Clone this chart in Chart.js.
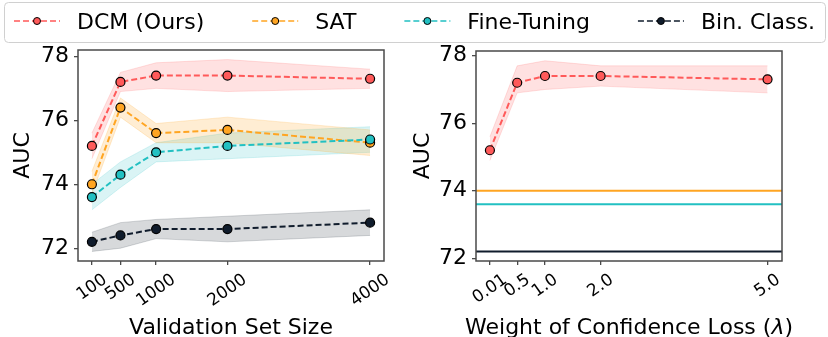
<!DOCTYPE html>
<html>
<head>
<meta charset="utf-8">
<script src="https://cdn.jsdelivr.net/npm/chart.js@4/dist/chart.umd.min.js"></script>
<style>
  body { margin: 0; background: #fff; }
  #wrap { position: relative; width: 828px; height: 337px; }
  canvas { position: absolute; left: 0; top: 0; }
</style>
</head>
<body>
<div id="wrap">
  <canvas id="sizeChart" width="828" height="337"></canvas>
  <canvas id="lambdaChart" width="828" height="337"></canvas>
</div>
<script>
// x values + tick labels
const sizes = [100, 500, 1000, 2000, 4000];
const sizeLabels = ['100', '500', '1000', '2000', '4000'];
const lambdas = [0.01, 0.5, 1.0, 2.0, 5.0];
const lambdaLabels = ['0.01', '0.5', '1.0', '2.0', '5.0'];
const aucTicks = [72, 74, 76, 78];

// left panel: AUC vs validation set size (mean, lower, upper)
const dcmAuc = [75.2, 77.2, 77.4, 77.4, 77.3];
const dcmLow = [74.8, 76.9, 77.0, 76.9, 77.0];
const dcmHigh = [75.6, 77.5, 77.8, 77.9, 77.6];
const satAuc = [74.0, 76.4, 75.6, 75.7, 75.3];
const satLow = [73.7, 76.1, 75.3, 75.3, 74.9];
const satHigh = [74.4, 76.7, 75.9, 76.1, 75.7];
const ftAuc = [73.6, 74.3, 75.0, 75.2, 75.4];
const ftLow = [73.2, 73.9, 74.7, 74.8, 75.0];
const ftHigh = [74.0, 74.7, 75.3, 75.6, 75.8];
const binAuc = [72.2, 72.4, 72.6, 72.6, 72.8];
const binLow = [71.9, 72.0, 72.3, 72.2, 72.4];
const binHigh = [72.5, 72.8, 72.9, 73.0, 73.2];

// right panel: AUC vs weight of confidence loss
const dcmLambdaAuc = [75.2, 77.2, 77.4, 77.4, 77.3];
const dcmLambdaLow = [74.9, 76.9, 77.0, 77.1, 76.9];
const dcmLambdaHigh = [75.6, 77.7, 77.85, 77.7, 77.7];
const baselineNames = ['SAT', 'Fine-Tuning', 'Bin. Class.'];
const baselineAuc = [74.0, 73.6, 72.2];

const legendNames = ['DCM (Ours)', 'SAT', 'Fine-Tuning', 'Bin. Class.'];
const colors = ['#ff5a5a', '#ffa522', '#22c0c2', '#101c2c'];
const bandColors = ['rgba(255,90,90,0.18)', 'rgba(255,165,34,0.2)', 'rgba(34,192,194,0.17)', 'rgba(16,28,44,0.17)'];

const FONT = 'DejaVu Sans';
const frameColor = '#4a4a4a';
Chart.defaults.font.family = FONT;
Chart.defaults.color = '#000';

const pts = (xs, ys) => xs.map((x, i) => ({ x: x, y: ys[i] }));

function lineSet(label, xs, ys, c, order) {
    return {
        label, data: pts(xs, ys), order,
        borderColor: colors[c], backgroundColor: colors[c],
        borderWidth: 2, borderDash: [6, 3], tension: 0, fill: false,
        pointRadius: 4.5, pointHoverRadius: 4.5,
        pointBackgroundColor: colors[c], pointBorderColor: '#000', pointBorderWidth: 1.2
    };
}

function bandSets(xs, lo, hi, c) {
    const base = { borderColor: bandColors[c], borderWidth: 1, pointRadius: 0, tension: 0, order: 20 };
    return [
        Object.assign({ label: '', data: pts(xs, hi), fill: '+1', backgroundColor: bandColors[c] }, base),
        Object.assign({ label: '', data: pts(xs, lo), fill: false }, base)
    ];
}

const fixTicks = vals => scale => { scale.ticks = vals.map(v => ({ value: v })); };

function axes(xMin, xMax, xTicks, yMin, yMax, yWidth) {
    return {
        x: {
            type: 'linear', min: xMin, max: xMax,
            afterBuildTicks: fixTicks(xTicks),
            afterFit: s => { s.height = 76; },
            ticks: { display: false },
            grid: { drawOnChartArea: false, tickLength: 4, color: frameColor, lineWidth: 1.3 },
            border: { display: false }
        },
        y: {
            min: yMin, max: yMax,
            afterBuildTicks: fixTicks(aucTicks),
            afterFit: s => { s.width = yWidth; },
            ticks: { color: '#000', font: { size: 22 }, padding: 5 },
            grid: { drawOnChartArea: false, tickLength: 4, color: frameColor, lineWidth: 1.3 },
            border: { display: false },
            title: { display: true, text: 'AUC', color: '#000', font: { size: 22 }, padding: { top: 10, bottom: 0 } }
        }
    };
}

// frame on all four sides, rotated tick labels and the x title (pieces: [text, italic])
function framePlugin(values, labels, titleParts) {
    return {
        id: 'frame',
        afterDraw(chart) {
            const { ctx, chartArea: a } = chart;
            ctx.save();
            ctx.strokeStyle = frameColor;
            ctx.lineWidth = 1.5;
            ctx.strokeRect(a.left, a.top, a.right - a.left, a.bottom - a.top);

            const rad = 35 * Math.PI / 180;
            ctx.font = '17px "' + FONT + '"';
            ctx.fillStyle = '#000';
            ctx.textAlign = 'center';
            ctx.textBaseline = 'middle';
            const sx = chart.scales.x;
            values.forEach((v, i) => {
                const w = ctx.measureText(labels[i]).width;
                const bh = w * Math.sin(rad) + 12.5 * Math.cos(rad);
                ctx.save();
                ctx.translate(sx.getPixelForValue(v), a.bottom + 12 + bh / 2);
                ctx.rotate(-rad);
                ctx.fillText(labels[i], 0, 0);
                ctx.restore();
            });

            // x axis title
            ctx.textAlign = 'left';
            ctx.textBaseline = 'alphabetic';
            const fontOf = it => (it ? 'oblique ' : '') + '22px "' + FONT + '"';
            let total = 0;
            titleParts.forEach(p => { ctx.font = fontOf(p[1]); total += ctx.measureText(p[0]).width; });
            let x = (a.left + a.right) / 2 - total / 2;
            titleParts.forEach(p => {
                ctx.font = fontOf(p[1]);
                ctx.fillText(p[0], x, 334);
                x += ctx.measureText(p[0]).width;
            });
            ctx.restore();
        }
    };
}

// shared legend across the top
const legendPlugin = {
    id: 'sharedLegend',
    afterDraw(chart) {
        const ctx = chart.ctx;
        ctx.save();
        ctx.fillStyle = 'rgba(255,255,255,0.8)';
        ctx.strokeStyle = '#d0d0d0';
        ctx.lineWidth = 1;
        ctx.beginPath();
        ctx.roundRect(4.5, 2.5, 821, 40, 4);
        ctx.fill();
        ctx.stroke();

        ctx.font = '22px "' + FONT + '"';
        ctx.textBaseline = 'alphabetic';
        const cy = 21;
        let x = 14;
        legendNames.forEach((name, i) => {
            ctx.strokeStyle = colors[i];
            ctx.lineWidth = 1.5;
            ctx.setLineDash([6, 3]);
            ctx.beginPath();
            ctx.moveTo(x, cy);
            ctx.lineTo(x + 46, cy);
            ctx.stroke();
            ctx.setLineDash([]);
            ctx.beginPath();
            ctx.arc(x + 23, cy, 3.5, 0, Math.PI * 2);
            ctx.fillStyle = colors[i];
            ctx.fill();
            ctx.strokeStyle = '#000';
            ctx.lineWidth = 1;
            ctx.stroke();
            ctx.fillStyle = '#000';
            ctx.fillText(name, x + 63, 28.5);
            x += 63 + ctx.measureText(name).width + 48;
        });
        ctx.restore();
    }
};

const common = {
    responsive: false,
    animation: false,
    devicePixelRatio: 1,
    plugins: { legend: { display: false }, tooltip: { enabled: false } }
};

new Chart(document.getElementById('sizeChart'), {
    type: 'line',
    data: {
        datasets: [
            lineSet('DCM (Ours)', sizes, dcmAuc, 0, 4),
            lineSet('SAT', sizes, satAuc, 1, 3),
            lineSet('Fine-Tuning', sizes, ftAuc, 2, 2),
            lineSet('Bin. Class.', sizes, binAuc, 3, 1),
            ...bandSets(sizes, dcmLow, dcmHigh, 0),
            ...bandSets(sizes, satLow, satHigh, 1),
            ...bandSets(sizes, ftLow, ftHigh, 2),
            ...bandSets(sizes, binLow, binHigh, 3)
        ]
    },
    options: Object.assign({}, common, {
        layout: { padding: { left: 0, right: 444, top: 50, bottom: 0 } },
        scales: axes(-95, 4195, sizes, 71.6, 78.2, 78)
    }),
    plugins: [framePlugin(sizes, sizeLabels, [['Validation Set Size', false]]), legendPlugin]
});

const xMinL = -0.24, xMaxL = 5.26;
new Chart(document.getElementById('lambdaChart'), {
    type: 'line',
    data: {
        datasets: [
            lineSet('DCM (Ours)', lambdas, dcmLambdaAuc, 0, 4),
            ...baselineAuc.map((v, i) => ({
                label: baselineNames[i], data: pts([xMinL, xMaxL], [v, v]), order: 5,
                borderColor: colors[i + 1], borderWidth: 2, pointRadius: 0, fill: false
            })),
            ...bandSets(lambdas, dcmLambdaLow, dcmLambdaHigh, 0)
        ]
    },
    options: Object.assign({}, common, {
        layout: { padding: { left: 400, right: 46, top: 51, bottom: 0 } },
        scales: axes(xMinL, xMaxL, lambdas, 71.92, 78.14, 76)
    }),
    plugins: [framePlugin(lambdas, lambdaLabels, [['Weight of Confidence Loss (', false], ['\u03bb', true], [')', false]])]
});
</script>
</body>
</html>
